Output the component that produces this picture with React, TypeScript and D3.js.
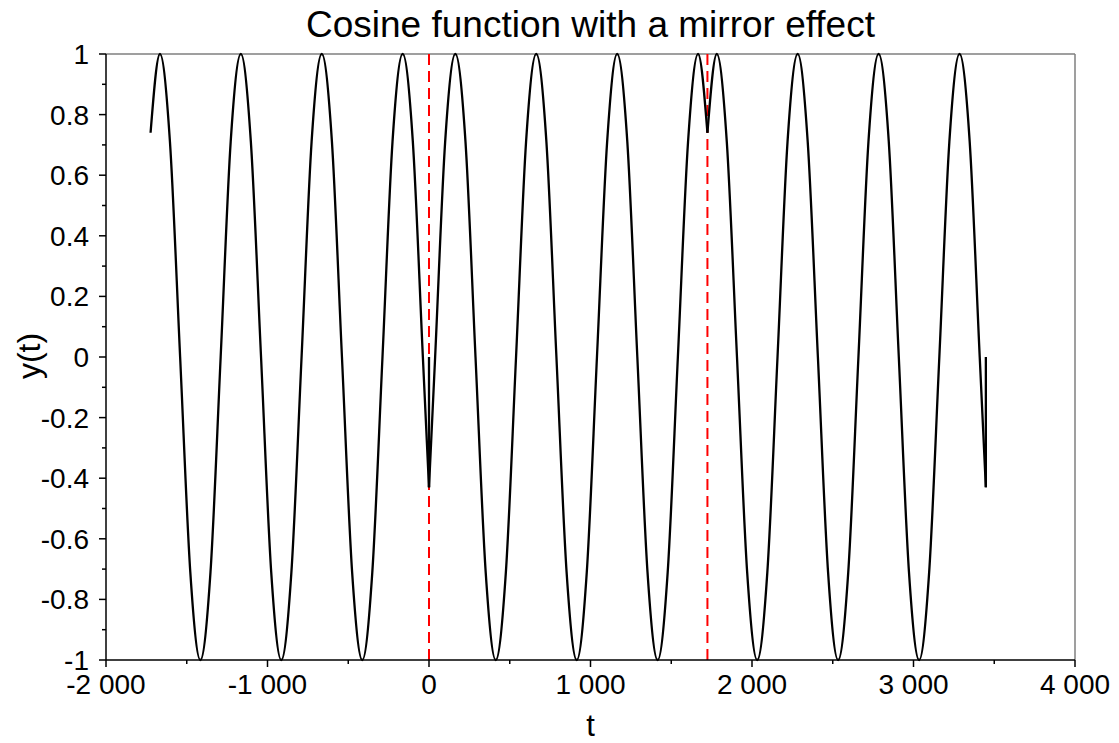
import React from "react";
import * as d3 from "d3";

// ---- data ----
const leftT = [-1724, -1666, -1604, -1541, -1478, -1416, -1353, -1290, -1228, -1165, -1103, -1040, -977, -915, -852, -789, -727, -664, -601, -539, -476, -413, -351, -288, -226, -163, -100, -38, 0];
const leftY = [0.74, 1, 0.71, 0, -0.71, -1, -0.71, 0, 0.71, 1, 0.71, 0, -0.71, -1, -0.71, 0, 0.71, 1, 0.71, 0, -0.71, -1, -0.71, 0, 0.71, 1, 0.71, 0, -0.43];
const midT = [0, 38, 100, 163, 226, 288, 351, 413, 476, 539, 601, 664, 727, 789, 852, 915, 977, 1040, 1103, 1165, 1228, 1290, 1353, 1416, 1478, 1541, 1604, 1666, 1724];
const midY = [-0.43, 0, 0.71, 1, 0.71, 0, -0.71, -1, -0.71, 0, 0.71, 1, 0.71, 0, -0.71, -1, -0.71, 0, 0.71, 1, 0.71, 0, -0.71, -1, -0.71, 0, 0.71, 1, 0.74];
const rightT = [1724, 1782, 1844, 1907, 1970, 2032, 2095, 2158, 2220, 2283, 2345, 2408, 2471, 2533, 2596, 2659, 2721, 2784, 2847, 2909, 2972, 3035, 3097, 3160, 3222, 3285, 3348, 3410, 3448];
const rightY = [0.74, 1, 0.71, 0, -0.71, -1, -0.71, 0, 0.71, 1, 0.71, 0, -0.71, -1, -0.71, 0, 0.71, 1, 0.71, 0, -0.71, -1, -0.71, 0, 0.71, 1, 0.71, 0, -0.43];
const jumpT = [0, 3448];
const jumpLow = [-0.43, -0.43];
const jumpHigh = [0, 0];
const mirrorT = [0, 1724];

const xTicks = [-2000, -1000, 0, 1000, 2000, 3000, 4000];
const xTickLabels = ["-2 000", "-1 000", "0", "1 000", "2 000", "3 000", "4 000"];
const xMinor = [-1500, -500, 500, 1500, 2500, 3500];
const yTicks = [1, 0.8, 0.6, 0.4, 0.2, 0, -0.2, -0.4, -0.6, -0.8, -1];
const yTickLabels = ["1", "0.8", "0.6", "0.4", "0.2", "0", "-0.2", "-0.4", "-0.6", "-0.8", "-1"];
const yMinor = [0.9, 0.7, 0.5, 0.3, 0.1, -0.1, -0.3, -0.5, -0.7, -0.9];

const title = "Cosine function with a mirror effect";
const xLabel = "t";
const yLabel = "y(t)";

const W = 1119, H = 743;
const M = { left: 106, right: 1075, top: 54, bottom: 660 };
const FONT = "'Liberation Sans', Arial, sans-serif";

export default function App() {
  const x = d3.scaleLinear().domain([-2000, 4000]).range([M.left, M.right]);
  const y = d3.scaleLinear().domain([-1, 1]).range([M.bottom, M.top]);
  const line = d3
    .line<[number, number]>()
    .x((d) => x(d[0]))
    .y((d) => y(d[1]))
    .curve(d3.curveMonotoneX);
  const zip = (ts: number[], ys: number[]) => ts.map((t, i) => [t, ys[i]] as [number, number]);
  const segs = [zip(leftT, leftY), zip(midT, midY), zip(rightT, rightY)];

  return (
    <svg
      width={W}
      height={H}
      style={{ position: "absolute", left: 0, top: 0, background: "#fff" }}
      fontFamily={FONT}
    >
      <rect x={0} y={0} width={W} height={H} fill="#fff" />
      {/* frame top/right */}
      <line x1={M.left} x2={M.right} y1={M.top} y2={M.top} stroke="#7f7f7f" strokeWidth={1.5} />
      <line x1={M.right} x2={M.right} y1={M.top} y2={M.bottom} stroke="#7f7f7f" strokeWidth={1.5} />

      {/* mirror lines */}
      {mirrorT.map((t, i) => (
        <line
          key={"m" + i}
          x1={x(t)}
          x2={x(t)}
          y1={y(-1)}
          y2={y(1)}
          stroke="#ff0000"
          strokeWidth={2}
          strokeDasharray="11,6"
        />
      ))}

      {/* curve */}
      {segs.map((s, i) => (
        <path key={"s" + i} d={line(s) || ""} fill="none" stroke="#000" strokeWidth={2.3} />
      ))}
      {jumpT.map((t, i) => (
        <line key={"j" + i} x1={x(t)} x2={x(t)} y1={y(jumpLow[i])} y2={y(jumpHigh[i])} stroke="#000" strokeWidth={2.3} />
      ))}

      {/* axes */}
      <line x1={M.left} x2={M.right} y1={M.bottom} y2={M.bottom} stroke="#000" strokeWidth={1.5} />
      <line x1={M.left} x2={M.left} y1={M.top} y2={M.bottom} stroke="#000" strokeWidth={1.5} />
      {xTicks.map((t, i) => (
        <g key={"xt" + i}>
          <line x1={x(t)} x2={x(t)} y1={M.bottom} y2={M.bottom + 7} stroke="#000" strokeWidth={1.5} />
          <text x={x(t)} y={694} textAnchor="middle" fontSize={28} fill="#000">
            {xTickLabels[i]}
          </text>
        </g>
      ))}
      {xMinor.map((t, i) => (
        <line key={"xm" + i} x1={x(t)} x2={x(t)} y1={M.bottom} y2={M.bottom + 4} stroke="#000" strokeWidth={1.5} />
      ))}
      {yTicks.map((v, i) => (
        <g key={"yt" + i}>
          <line x1={M.left - 7} x2={M.left} y1={y(v)} y2={y(v)} stroke="#000" strokeWidth={1.5} />
          <text x={M.left - 17} y={y(v) + 10} textAnchor="end" fontSize={28} fill="#000">
            {yTickLabels[i]}
          </text>
        </g>
      ))}
      {yMinor.map((v, i) => (
        <line key={"ym" + i} x1={M.left - 4} x2={M.left} y1={y(v)} y2={y(v)} stroke="#000" strokeWidth={1.5} />
      ))}

      <text x={(M.left + M.right) / 2} y={37} textAnchor="middle" fontSize={37} fill="#000">
        {title}
      </text>
      <text x={(M.left + M.right) / 2} y={736} textAnchor="middle" fontSize={31} fill="#000">
        {xLabel}
      </text>
      <text
        transform={`translate(40, 356) rotate(-90)`}
        textAnchor="middle"
        fontSize={32}
        fill="#000"
      >
        {yLabel}
      </text>
    </svg>
  );
}
